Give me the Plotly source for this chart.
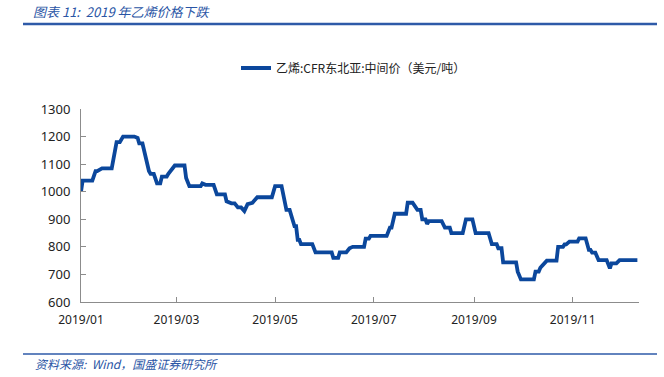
import plotly.graph_objects as go

dates = [
    "2019-01-01", "2019-01-02", "2019-01-08", "2019-01-10", "2019-01-11", "2019-01-14",
    "2019-01-20", "2019-01-23", "2019-01-25", "2019-01-27", "2019-02-03", "2019-02-05",
    "2019-02-06", "2019-02-08", "2019-02-12", "2019-02-13", "2019-02-15", "2019-02-17",
    "2019-02-19", "2019-02-20", "2019-02-23", "2019-02-24", "2019-02-28", "2019-03-06",
    "2019-03-07", "2019-03-09", "2019-03-16", "2019-03-17", "2019-03-19", "2019-03-24",
    "2019-03-26", "2019-03-31", "2019-04-01", "2019-04-04", "2019-04-06", "2019-04-08",
    "2019-04-10", "2019-04-12", "2019-04-14", "2019-04-17", "2019-04-20", "2019-04-29",
    "2019-05-01", "2019-05-05", "2019-05-08", "2019-05-10", "2019-05-13", "2019-05-14",
    "2019-05-15", "2019-05-16", "2019-05-17", "2019-05-24", "2019-05-26", "2019-06-05",
    "2019-06-06", "2019-06-09", "2019-06-10", "2019-06-14", "2019-06-16", "2019-06-18",
    "2019-06-25", "2019-06-26", "2019-06-28", "2019-06-29", "2019-07-09", "2019-07-11",
    "2019-07-12", "2019-07-14", "2019-07-21", "2019-07-22", "2019-07-25", "2019-07-28",
    "2019-07-30", "2019-07-31", "2019-08-02", "2019-08-03", "2019-08-04", "2019-08-12",
    "2019-08-14", "2019-08-17", "2019-08-18", "2019-08-25", "2019-08-27", "2019-08-31",
    "2019-09-02", "2019-09-10", "2019-09-12", "2019-09-15", "2019-09-16", "2019-09-18",
    "2019-09-19", "2019-09-27", "2019-09-28", "2019-09-30", "2019-10-08", "2019-10-09",
    "2019-10-11", "2019-10-12", "2019-10-16", "2019-10-22", "2019-10-23", "2019-10-26",
    "2019-10-27", "2019-10-28", "2019-10-30", "2019-11-04", "2019-11-05", "2019-11-09",
    "2019-11-11", "2019-11-12", "2019-11-13", "2019-11-15", "2019-11-17", "2019-11-22",
    "2019-11-24", "2019-11-25", "2019-11-28", "2019-11-30", "2019-12-11",
]
prices = [
    1000, 1040, 1040, 1075, 1075, 1085,
    1085, 1180, 1180, 1200, 1200, 1195,
    1175, 1175, 1075, 1065, 1065, 1030,
    1030, 1055, 1055, 1065, 1095, 1095,
    1050, 1020, 1020, 1030, 1025, 1025,
    990, 990, 965, 958, 958, 943,
    943, 930, 955, 960, 980, 980,
    1020, 1020, 934, 934, 875, 875,
    825, 825, 810, 810, 780, 780,
    760, 760, 780, 780, 795, 800,
    800, 830, 830, 840, 840, 870,
    870, 920, 920, 960, 960, 934,
    934, 900, 900, 883, 893, 893,
    870, 870, 850, 850, 900, 900,
    850, 850, 810, 810, 795, 795,
    744, 744, 710, 682, 682, 710,
    710, 724, 750, 750, 800, 800,
    809, 809, 819, 819, 831, 831,
    789, 789, 779, 779, 752, 752,
    722, 740, 740, 752, 752,
]
tick_vals = ["2019-01-01", "2019-03-01", "2019-05-01", "2019-07-01", "2019-09-01", "2019-11-01"]
tick_text = ["2019/01", "2019/03", "2019/05", "2019/07", "2019/09", "2019/11"]
series_name = "乙烯:CFR东北亚:中间价（美元/吨）"
title_text = "图表 11:  2019 年乙烯价格下跌"
source_text = "资料来源:  Wind，国盛证券研究所"

blue = "#0b479c"
font_main = "Noto Sans, Noto Sans CJK SC, sans-serif"

L, R, T, B = 81, 25, 109, 75
plot_h = 377 - T - B
plot_w = 664 - L - R

fig = go.Figure()
fig.add_trace(go.Scatter(
    x=dates, y=prices, mode="lines", name=series_name,
    line=dict(color=blue, width=3.8), showlegend=True,
))

fig.update_layout(
    width=664, height=377,
    margin=dict(l=L, r=R, t=T, b=B),
    paper_bgcolor="white", plot_bgcolor="white",
    font=dict(family=font_main, size=12, color="#222222"),
    showlegend=True,
    legend=dict(
        orientation="h", x=(236 - L) / plot_w, xanchor="left",
        y=1 + (T - 68) / plot_h, yanchor="middle",
        font=dict(family="Noto Sans CJK SC, sans-serif", size=12, color="#222222"),
        bgcolor="rgba(0,0,0,0)", itemwidth=30,
    ),
    xaxis=dict(
        type="date", range=["2019-01-01", "2019-12-12"],
        tickvals=tick_vals, ticktext=tick_text,
        showgrid=False, zeroline=False,
        showline=True, linecolor="#8c8c8c", linewidth=1,
        ticks="inside", ticklen=5, tickcolor="#8c8c8c",
        tickfont=dict(size=12, color="#222222"),
        ticklabelstandoff=7,
    ),
    yaxis=dict(
        range=[600, 1300], tick0=600, dtick=100,
        showgrid=False, zeroline=False,
        showline=True, linecolor="#8c8c8c", linewidth=1,
        ticks="inside", ticklen=5, tickcolor="#8c8c8c",
        tickfont=dict(size=13, color="#222222"),
        ticklabelstandoff=7,
    ),
    annotations=[
        dict(text=title_text, xref="paper", yref="paper",
             x=(31 - L) / plot_w, y=1 + (T - 11) / plot_h,
             xanchor="left", yanchor="middle", showarrow=False,
             font=dict(family="Noto Sans CJK SC, sans-serif", size=13, color="#2a55a5", style="italic")),
        dict(text=source_text, xref="paper", yref="paper",
             x=(33 - L) / plot_w, y=-(363 - (377 - B)) / plot_h,
             xanchor="left", yanchor="middle", showarrow=False,
             font=dict(family="Noto Sans CJK SC, sans-serif", size=12, color="#2a55a5", style="italic")),
    ],
    shapes=[
        dict(type="line", xref="paper", yref="paper",
             x0=(23 - L) / plot_w, x1=(657 - L) / plot_w,
             y0=1 + (T - 24) / plot_h, y1=1 + (T - 24) / plot_h,
             line=dict(color="#2e5aa8", width=2.5)),
        dict(type="line", xref="paper", yref="paper",
             x0=(23 - L) / plot_w, x1=(657 - L) / plot_w,
             y0=-(354 - (377 - B)) / plot_h, y1=-(354 - (377 - B)) / plot_h,
             line=dict(color="#2e5aa8", width=1.5)),
    ],
)
fig.write_html(
    "out.html",
    config={"displayModeBar": False},
    post_script="document.body.style.margin='0';document.body.style.overflow='hidden';",
)
